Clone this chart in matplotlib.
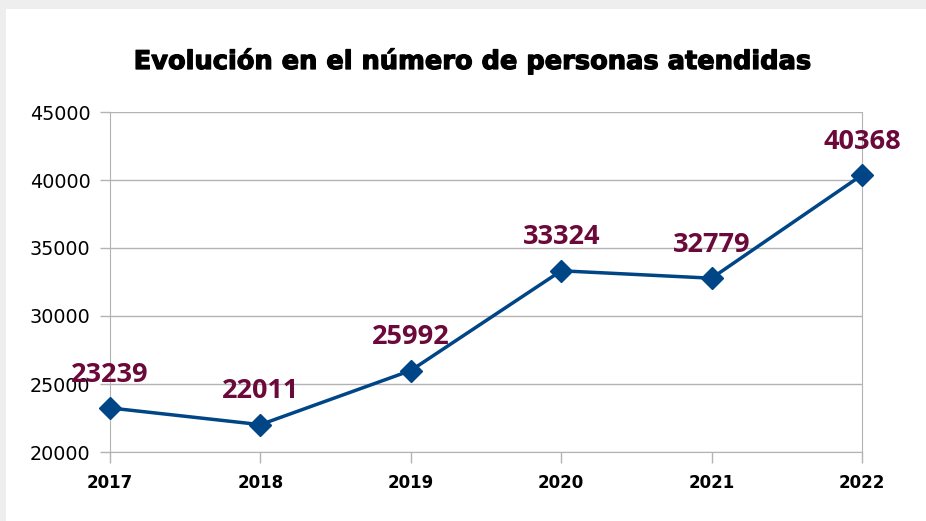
import matplotlib.pyplot as plt
import matplotlib.patheffects as pe

years = ["2017", "2018", "2019", "2020", "2021", "2022"]
personas = [23239, 22011, 25992, 33324, 32779, 40368]
yticks = [20000, 25000, 30000, 35000, 40000, 45000]

fig = plt.figure(figsize=(9.26, 5.21), dpi=100)
fig.patch.set_facecolor("#eeeeee")
# white panel
fig.add_artist(plt.Rectangle((6 / 926, 0), 1, 1 - 9 / 521, transform=fig.transFigure,
                             facecolor="white", edgecolor="none", zorder=0))

ax = fig.add_axes([110 / 926, 1 - 452 / 521, (862 - 110) / 926, (452 - 112) / 521])
ax.set_facecolor("none")

x = list(range(len(years)))
ax.plot(x, personas, color="#004586", lw=2.5, marker="D", ms=11, zorder=3, clip_on=False)

for xi, v in zip(x, personas):
    ax.annotate(str(v), (xi, v), xytext=(0, 24), textcoords="offset points",
                ha="center", va="center", color="#6b0a3a", fontsize=19.5,
                fontweight="bold", family="Open Sans", zorder=4)

ax.set_xlim(0, len(years) - 1)
ax.set_ylim(20000, 45000)
ax.set_xticks(x)
ax.set_xticklabels(years, fontweight="bold", fontsize=12)
ax.set_yticks(yticks)
ax.set_yticklabels([str(t) for t in yticks], fontsize=13.8)
ax.grid(axis="y", color="#b3b3b3", lw=1)
ax.set_axisbelow(True)
for s in ["left", "right"]:
    ax.spines[s].set_color("#b3b3b3")
ax.spines["top"].set_visible(False)
ax.spines["bottom"].set_color("#b3b3b3")
ax.tick_params(axis="both", colors="#b3b3b3", labelcolor="black", width=1)
ax.tick_params(axis="x", length=8, pad=8)
ax.tick_params(axis="y", length=7, pad=7)

fig.text(473 / 926, 1 - 61 / 521, "Evolución en el número de personas atendidas",
         ha="center", va="center", fontsize=18.5, fontweight="bold",
         path_effects=[pe.withStroke(linewidth=0.9, foreground="black")])

fig.savefig("out.png", dpi=100)
